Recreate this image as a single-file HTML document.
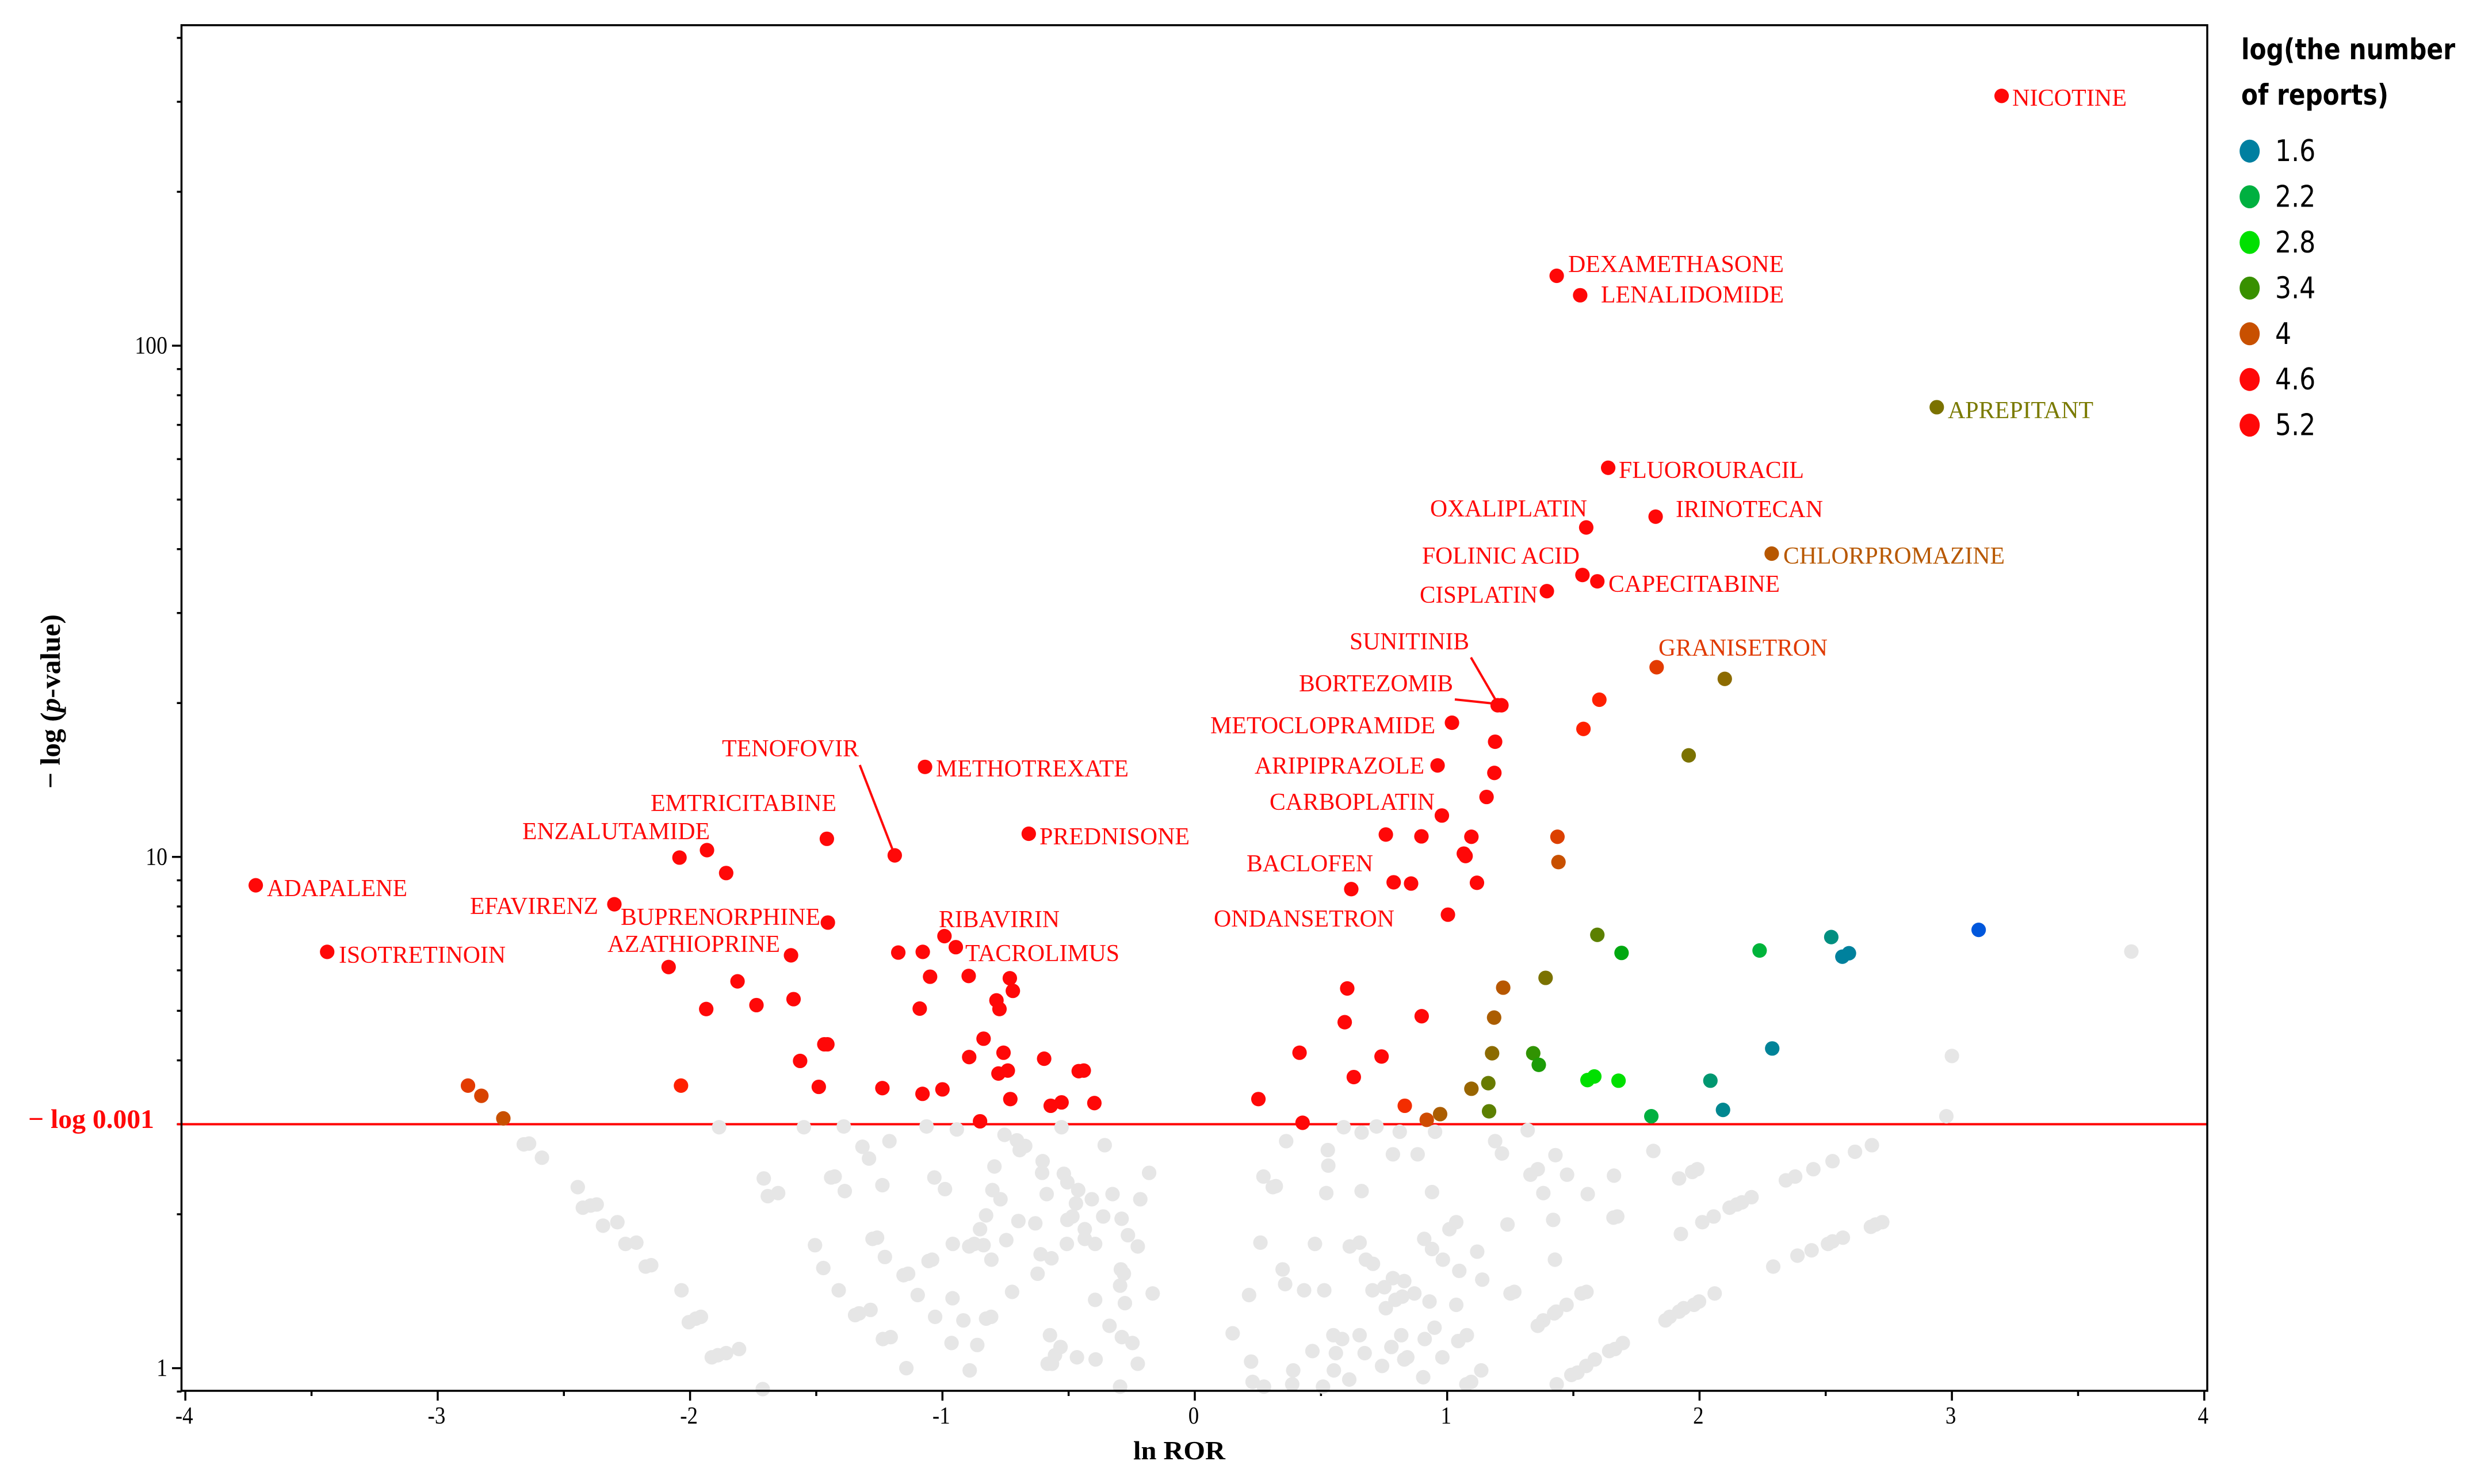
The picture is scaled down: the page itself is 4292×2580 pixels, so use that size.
<!DOCTYPE html>
<html lang="en">
<head>
<meta charset="utf-8">
<title>Volcano plot of ln ROR against -log p-value</title>
<style>
html,body{margin:0;padding:0;background:#fff;}
svg{display:block;}
.serif{font-family:"Liberation Serif","Noto Serif CJK SC",serif;}
.sans{font-family:"DejaVu Sans","Liberation Sans",sans-serif;}
.drug{font-family:"Liberation Serif",serif;font-size:42px;fill:#ff0808;}
</style>
</head>
<body>
<svg id="chart" xmlns="http://www.w3.org/2000/svg" width="4292" height="2580" viewBox="0 0 4292 2580">
  <rect x="0" y="0" width="4292" height="2580" fill="#ffffff"/>
  <g id="ticks"></g>
  <g id="threshold"></g>
  <g id="greyDots"></g>
  <g id="sigDots"></g>
  <rect x="315.5" y="43.8" width="3521.5" height="2374.2" fill="none" stroke="#000" stroke-width="3.5"/>

  <g stroke="#ff0808" stroke-width="4" fill="none">
    <line x1="1494.6" y1="1330" x2="1551" y2="1475.5"/>
    <line x1="2557" y1="1143" x2="2600" y2="1217"/>
    <line x1="2529" y1="1216" x2="2595" y2="1223"/>
  </g>

  <g>
    <text class="drug" x="3498" y="184" textLength="199" lengthAdjust="spacingAndGlyphs">NICOTINE</text>
    <text class="drug" x="2726" y="473" textLength="375" lengthAdjust="spacingAndGlyphs">DEXAMETHASONE</text>
    <text class="drug" x="2783" y="526" textLength="318" lengthAdjust="spacingAndGlyphs">LENALIDOMIDE</text>
    <text class="drug" x="3386" y="727" textLength="253" lengthAdjust="spacingAndGlyphs" style="fill:#7a7a00">APREPITANT</text>
    <text class="drug" x="2814" y="831" textLength="322" lengthAdjust="spacingAndGlyphs">FLUOROURACIL</text>
    <text class="drug" x="2486" y="898" textLength="273" lengthAdjust="spacingAndGlyphs">OXALIPLATIN</text>
    <text class="drug" x="2913" y="899" textLength="256" lengthAdjust="spacingAndGlyphs">IRINOTECAN</text>
    <text class="drug" x="2472" y="980" textLength="274" lengthAdjust="spacingAndGlyphs">FOLINIC ACID</text>
    <text class="drug" x="3100" y="980" textLength="385" lengthAdjust="spacingAndGlyphs" style="fill:#b85800">CHLORPROMAZINE</text>
    <text class="drug" x="2796" y="1029" textLength="298" lengthAdjust="spacingAndGlyphs">CAPECITABINE</text>
    <text class="drug" x="2468" y="1048" textLength="205" lengthAdjust="spacingAndGlyphs">CISPLATIN</text>
    <text class="drug" x="2883" y="1140" textLength="294" lengthAdjust="spacingAndGlyphs" style="fill:#e03a00">GRANISETRON</text>
    <text class="drug" x="2346" y="1129" textLength="208" lengthAdjust="spacingAndGlyphs">SUNITINIB</text>
    <text class="drug" x="2258" y="1202" textLength="268" lengthAdjust="spacingAndGlyphs">BORTEZOMIB</text>
    <text class="drug" x="2104" y="1275" textLength="391" lengthAdjust="spacingAndGlyphs">METOCLOPRAMIDE</text>
    <text class="drug" x="2181" y="1345" textLength="295" lengthAdjust="spacingAndGlyphs">ARIPIPRAZOLE</text>
    <text class="drug" x="2207" y="1408" textLength="287" lengthAdjust="spacingAndGlyphs">CARBOPLATIN</text>
    <text class="drug" x="2167" y="1515" textLength="220" lengthAdjust="spacingAndGlyphs">BACLOFEN</text>
    <text class="drug" x="2110" y="1611" textLength="314" lengthAdjust="spacingAndGlyphs">ONDANSETRON</text>
    <text class="drug" x="1255" y="1315" textLength="238" lengthAdjust="spacingAndGlyphs">TENOFOVIR</text>
    <text class="drug" x="1627" y="1350" textLength="335" lengthAdjust="spacingAndGlyphs">METHOTREXATE</text>
    <text class="drug" x="1131" y="1410" textLength="323" lengthAdjust="spacingAndGlyphs">EMTRICITABINE</text>
    <text class="drug" x="908" y="1459" textLength="326" lengthAdjust="spacingAndGlyphs">ENZALUTAMIDE</text>
    <text class="drug" x="1807" y="1468" textLength="261" lengthAdjust="spacingAndGlyphs">PREDNISONE</text>
    <text class="drug" x="464" y="1558" textLength="244" lengthAdjust="spacingAndGlyphs">ADAPALENE</text>
    <text class="drug" x="817" y="1589" textLength="223" lengthAdjust="spacingAndGlyphs">EFAVIRENZ</text>
    <text class="drug" x="1079" y="1608" textLength="347" lengthAdjust="spacingAndGlyphs">BUPRENORPHINE</text>
    <text class="drug" x="1632" y="1612" textLength="210" lengthAdjust="spacingAndGlyphs">RIBAVIRIN</text>
    <text class="drug" x="1056" y="1655" textLength="300" lengthAdjust="spacingAndGlyphs">AZATHIOPRINE</text>
    <text class="drug" x="1678" y="1671" textLength="268" lengthAdjust="spacingAndGlyphs">TACROLIMUS</text>
    <text class="drug" x="589" y="1674" textLength="290" lengthAdjust="spacingAndGlyphs">ISOTRETINOIN</text>
  </g>

  <text class="serif" x="49" y="1961" font-size="47" font-weight="bold" fill="#ff0808" textLength="219" lengthAdjust="spacingAndGlyphs">− log 0.001</text>
  <text class="serif" x="1970" y="2537" font-size="46" font-weight="bold" fill="#000" textLength="160" lengthAdjust="spacingAndGlyphs">ln ROR</text>
  <text class="serif" transform="translate(104,1371) rotate(-90)" font-size="49" font-weight="bold" fill="#000" textLength="303" lengthAdjust="spacingAndGlyphs">− log (<tspan font-style="italic">p</tspan>-value)</text>

  <g id="xLabels"></g>
  <g id="yLabels"></g>

  <g id="legend">
    <text class="sans" x="3896" y="103" font-size="50" font-weight="bold" fill="#000" textLength="372" lengthAdjust="spacingAndGlyphs">log(the number</text>
    <text class="sans" x="3896" y="182" font-size="50" font-weight="bold" fill="#000" textLength="256" lengthAdjust="spacingAndGlyphs">of reports)</text>
  </g>
</svg>
<script>
const xMajorTicks = [-4,-3,-2,-1,0,1,2,3,4];
const xMinorTicks = [-3.5,-2.5,-1.5,-0.5,0.5,1.5,2.5,3.5];
const yMajorTicks = [1,10,100];
const yMinorTicks = [0.9,2,3,4,5,6,7,8,9,20,30,40,50,60,70,80,90,200,300,400];
const significanceThreshold = 3;
const legendValues = [1.6,2.2,2.8,3.4,4,4.6,5.2];

/* [ln ROR, -log p] */
const nonSignificantPoints = [
[-1.885,2.96],[-2.659,2.74],[-2.638,2.75],[-2.587,2.58],[-2.445,2.26],[-2.425,2.06],[-2.394,2.08],[-2.37,2.09],
[-2.345,1.90],[-2.288,1.93],[-2.256,1.75],[-2.213,1.76],[-2.176,1.58],[-2.154,1.59],[-2.034,1.42],[-2.005,1.23],
[-1.977,1.25],[-1.957,1.26],[-1.914,1.05],[-1.89,1.06],[-1.857,1.07],[-1.806,1.09],[-1.712,0.91],[-1.708,2.35],
[-1.692,2.17],[-1.651,2.20],[-1.549,2.96],
[-1.391,2.97],[-1.317,2.71],[-1.291,2.57],[-1.21,2.78],[-1.441,2.36],[-1.427,2.37],[-1.387,2.22],[-1.238,2.28],
[-1.063,2.97],[-0.943,2.93],[-1.032,2.36],[-0.99,2.24],[-0.754,2.86],[-0.705,2.79],[-0.694,2.67],[-0.672,2.72],
[-0.794,2.48],[-0.603,2.54],[-0.605,2.41],[-0.528,2.96],[-0.357,2.73],[-0.519,2.40],[-0.505,2.31],[-0.462,2.23],
[-0.181,2.41],[-0.802,2.23],[-0.77,2.14],[-0.587,2.19],[-0.471,2.10],[-0.408,2.14],[-0.326,2.19],[-0.216,2.14],
[-0.827,1.99],[-0.851,1.87],[-0.699,1.94],[-0.632,1.92],[-0.505,1.95],[-0.485,1.98],[-0.363,1.98],[-0.29,1.96],
[-0.436,1.87],[-0.265,1.82],[-0.436,1.79],[-0.507,1.75],[-0.395,1.75],[-0.226,1.73],[-0.747,1.78],[-0.837,1.74],
[-0.894,1.73],[-0.874,1.75],[-0.959,1.75],[-1.277,1.79],[-1.259,1.80],[-1.505,1.74],[-1.228,1.65],[-1.472,1.57],
[-1.041,1.63],[-1.055,1.62],[-0.806,1.63],[-0.611,1.67],[-0.568,1.64],[-0.623,1.53],[-1.154,1.52],[-1.136,1.53],
[-1.411,1.42],[-1.098,1.39],[-0.96,1.37],[-0.724,1.41],[-0.293,1.56],[-0.281,1.53],[-0.296,1.45],[-0.167,1.40],
[-0.395,1.36],[-0.277,1.34],[-1.285,1.30],[-1.346,1.27],[-1.33,1.28],[-1.029,1.26],[-0.917,1.24],[-0.827,1.25],
[-0.807,1.26],[-0.338,1.21],[-1.236,1.14],[-1.205,1.15],[-0.964,1.12],[-0.862,1.11],[-0.574,1.16],[-0.532,1.10],
[-0.554,1.06],[-0.583,1.02],[-0.566,1.02],[-0.467,1.05],[-0.393,1.04],[-0.289,1.15],[-0.247,1.12],[-0.226,1.02],
[-1.143,1.00],[-0.892,0.99],[-0.296,0.92],
[0.362,2.78],[0.527,2.67],[0.529,2.49],[0.59,2.96],[0.661,2.89],[0.72,2.97],[0.812,2.90],[0.952,2.90],
[0.785,2.62],[0.883,2.62],[1.19,2.78],[1.217,2.63],[1.319,2.92],[1.429,2.61],[1.33,2.39],[1.359,2.45],
[1.475,2.39],[1.381,2.20],[1.557,2.19],[0.272,2.37],[0.309,2.26],[0.321,2.27],[0.521,2.20],[0.661,2.22],
[0.94,2.21],[1.42,1.95],[1.036,1.93],[1.009,1.87],[1.239,1.91],[0.26,1.76],[0.476,1.75],[0.614,1.73],
[0.653,1.76],[0.909,1.79],[0.94,1.71],[0.983,1.63],[0.678,1.63],[0.706,1.60],[1.119,1.69],[1.427,1.63],
[0.348,1.56],[0.358,1.46],[1.048,1.55],[0.785,1.50],[0.83,1.48],[0.751,1.44],[0.704,1.42],[0.433,1.42],
[0.513,1.42],[0.215,1.39],[1.139,1.49],[0.87,1.40],[0.822,1.38],[0.795,1.36],[0.757,1.31],[0.93,1.35],
[1.036,1.33],[1.251,1.40],[1.266,1.41],[1.532,1.40],[1.552,1.41],[1.473,1.33],[1.424,1.28],[1.432,1.29],
[1.381,1.24],[1.359,1.21],[0.95,1.20],[0.15,1.17],[0.549,1.16],[0.584,1.14],[0.653,1.16],[0.818,1.16],
[0.911,1.14],[1.078,1.16],[1.044,1.13],[0.466,1.08],[0.559,1.07],[0.673,1.07],[0.779,1.10],[0.83,1.04],
[0.842,1.05],[0.981,1.05],[0.223,1.03],[0.742,1.01],[0.551,0.99],[0.39,0.99],[0.905,0.96],[1.135,0.99],
[0.612,0.95],[1.095,0.94],[1.076,0.93],[0.229,0.94],[0.274,0.92],[0.386,0.93],[0.508,0.92],[1.434,0.93],
[1.492,0.97],[1.516,0.98],[1.551,1.01],[1.585,1.04],[1.642,1.08],
[1.661,2.38],[1.674,1.98],[1.659,1.97],[1.817,2.66],[1.919,2.35],[1.971,2.42],[1.991,2.45],[1.926,1.83],
[2.011,1.93],[2.056,1.98],[2.119,2.06],[2.148,2.09],[2.168,2.11],[2.206,2.16],[2.342,2.33],[2.379,2.37],
[2.451,2.45],[2.527,2.54],[2.616,2.65],[2.683,2.73],[2.292,1.58],[2.388,1.66],[2.444,1.70],[2.509,1.75],
[2.527,1.77],[2.568,1.80],[2.679,1.89],[2.698,1.91],[2.724,1.93],[1.865,1.24],[1.882,1.26],[1.919,1.29],
[1.937,1.31],[1.978,1.33],[1.998,1.35],[2.06,1.40],[1.696,1.12],[1.665,1.09],
[2.978,3.11],[3.0,4.08],[3.711,6.53]
];

/* [ln ROR, -log p, log(number of reports)] */
const significantPoints = [
[3.197,308,5.1],[1.434,137,5.1],[1.527,125.5,5],[2.94,75.8,3.68],[1.638,57.7,4.8],[1.551,44.1,4.8],[1.826,46.3,4.8],
[2.286,39.2,3.93],[1.536,35.6,4.8],[1.595,34.6,4.8],[1.395,33.1,4.8],[1.83,23.5,4.2],[2.10,22.3,3.75],[1.603,20.3,4.45],
[1.54,17.8,4.45],[1.957,15.8,3.68],[1.20,19.8,4.8],[1.215,19.8,4.8],[1.019,18.3,4.8],[1.19,16.8,4.8],[0.962,15.1,4.8],
[1.187,14.6,4.8],[1.156,13.1,4.8],[0.979,12.05,4.8],
[0.757,11.06,4.8],[0.898,10.97,4.8],[1.096,10.95,4.8],[1.437,10.95,4.15],[1.066,10.15,4.8],[1.073,10.04,4.8],
[1.441,9.77,4],[0.788,8.92,4.8],[0.857,8.87,4.8],[1.118,8.9,4.8],[0.62,8.65,4.8],[1.003,7.71,4.8],[0.604,5.53,4.8],
[1.222,5.55,3.93],[1.39,5.8,3.68],[1.595,7.04,3.55],
[0.899,4.88,4.8],[0.594,4.75,4.8],[0.415,4.14,4.8],[0.74,4.07,4.8],[0.63,3.71,4.8],[0.252,3.36,4.8],[0.427,3.02,4.8],
[0.832,3.26,4.33],[0.919,3.06,4.05],[0.972,3.14,3.88],[1.096,3.52,3.8],[1.163,3.61,3.6],[1.166,3.18,3.55],[1.178,4.13,3.75],
[1.186,4.85,3.88],[1.341,4.13,3.35],[1.363,3.92,3.2],[1.556,3.66,2.8],[1.583,3.72,2.8],
[-1.189,10.07,4.8],[-1.069,15.0,4.8],[-0.658,11.1,4.8],[-1.458,10.85,4.8],[-1.454,7.44,4.8],[-0.992,7.0,4.8],[-0.947,6.66,4.8],
[-1.175,6.5,4.8],[-1.078,6.52,4.8],[-1.049,5.83,4.8],[-0.896,5.85,4.8],[-0.733,5.79,4.8],[-0.721,5.47,4.8],[-0.786,5.24,4.8],
[-1.09,5.05,4.8],[-0.774,5.04,4.8],[-0.837,4.41,4.8],[-1.468,4.3,4.8],[-1.456,4.3,4.8],[-0.894,4.06,4.8],[-0.758,4.14,4.8],
[-0.597,4.03,4.8],[-0.46,3.81,4.8],[-0.44,3.82,4.8],[-0.778,3.77,4.8],[-0.741,3.82,4.8],[-1.49,3.55,4.8],[-1.238,3.53,4.8],
[-1.079,3.44,4.8],[-1.0,3.51,4.8],[-0.731,3.36,4.8],[-0.571,3.26,4.8],[-0.528,3.31,4.8],[-0.398,3.30,4.8],[-0.851,3.04,4.8],
[-1.564,3.99,4.8],
[-3.721,8.8,4.8],[-3.438,6.52,4.8],[-2.30,8.08,4.8],[-2.042,9.97,4.8],[-1.933,10.31,4.8],[-1.857,9.3,4.8],[-1.60,6.42,4.8],
[-2.085,6.09,4.8],[-1.812,5.71,4.8],[-1.59,5.27,4.8],[-1.737,5.13,4.8],[-1.936,5.04,4.8],[-2.036,3.57,4.45],[-2.88,3.57,4.2],
[-2.827,3.41,4.12],[-2.74,3.08,4],
[1.691,6.49,3.0],[2.238,6.56,2.25],[2.522,6.97,1.8],[2.566,6.38,1.62],[2.592,6.48,1.62],[3.106,7.2,1.22],[2.288,4.22,1.65],
[1.679,3.65,2.8],[2.043,3.65,1.9],[2.093,3.2,1.7],[1.809,3.11,2.2]
];

const colorStopValues = [1,1.6,2.2,2.8,3.0,3.4,4,4.3,4.45,4.6,5.2];
const colorStopColors = [[0,64,255],[0,127,160],[0,176,64],[0,224,0],[0,168,16],[56,144,0],[200,80,0],[240,48,0],[255,32,0],[255,8,8],[255,8,8]];

const NS = 'http://www.w3.org/2000/svg';
function xScale(v){ return 2077 + 438.7 * v; }
function yScale(v){ return 2378.6 - 888.8 * Math.log10(v); }
function reportColor(v){
  if (v <= colorStopValues[0]) return 'rgb(' + colorStopColors[0].join(',') + ')';
  for (let i = 1; i < colorStopValues.length; i++) {
    if (v <= colorStopValues[i]) {
      const t = (v - colorStopValues[i-1]) / (colorStopValues[i] - colorStopValues[i-1]);
      const a = colorStopColors[i-1], b = colorStopColors[i];
      return 'rgb(' + a.map(function(c, k){ return Math.round(c + (b[k] - c) * t); }).join(',') + ')';
    }
  }
  return 'rgb(' + colorStopColors[colorStopColors.length-1].join(',') + ')';
}
function make(tag, parent, props){
  const el = document.createElementNS(NS, tag);
  for (const k in props) el.setAttribute(k, props[k]);
  parent.appendChild(el);
  return el;
}

const ticksGroup = document.getElementById('ticks');
xMajorTicks.forEach(function(v){
  const el = make('line', ticksGroup, {x1:xScale(v), x2:xScale(v), y1:2418, y2:2435, stroke:'#000', 'stroke-width':3.5});
  
  
});
xMinorTicks.forEach(function(v){
  const el = make('line', ticksGroup, {x1:xScale(v), x2:xScale(v), y1:2418, y2:2427, stroke:'#000', 'stroke-width':3.5});
  
  
});
yMajorTicks.forEach(function(v){
  const el = make('line', ticksGroup, {x1:299, x2:315.5, y1:yScale(v), y2:yScale(v), stroke:'#000', 'stroke-width':3.5});
  
  
});
yMinorTicks.forEach(function(v){
  const el = make('line', ticksGroup, {x1:307.5, x2:315.5, y1:yScale(v), y2:yScale(v), stroke:'#000', 'stroke-width':3.5});
  
  
});

const xLabelGroup = document.getElementById('xLabels');
xMajorTicks.forEach(function(v){
  const el = make('text', xLabelGroup, {transform:'translate(' + (xScale(v) - 2) + ',2475) scale(.88,1)', 'text-anchor':'middle', 'font-size':42, fill:'#000', 'class':'serif'});
  
  
  el.textContent = String(v);
});
const yLabelGroup = document.getElementById('yLabels');
yMajorTicks.forEach(function(v){
  const el = make('text', yLabelGroup, {transform:'translate(291,' + (yScale(v) + 13.5) + ') scale(.88,1)', 'text-anchor':'end', 'font-size':43, fill:'#000', 'class':'serif'});
  
  
  el.textContent = String(v);
});

const thresholdGroup = document.getElementById('threshold');
const thresholdLine = make('line', thresholdGroup, {x1:308, x2:3837, y1:yScale(significanceThreshold), y2:yScale(significanceThreshold), stroke:'#ff0000', 'stroke-width':4});



const greyGroup = document.getElementById('greyDots');
nonSignificantPoints.forEach(function(p){
  const el = make('circle', greyGroup, {cx:xScale(p[0]), cy:yScale(p[1]), r:12.6, fill:'#e6e6e6'});
  
  
});
const sigGroup = document.getElementById('sigDots');
significantPoints.forEach(function(p){
  const el = make('circle', sigGroup, {cx:xScale(p[0]), cy:yScale(p[1]), r:12.6, fill:reportColor(p[2])});
  
  
});

const legendGroup = document.getElementById('legend');
legendValues.forEach(function(v, i){
  const cy = 262.7 + 79.4 * i;
  const dot = make('ellipse', legendGroup, {cx:3910.7, cy:cy, rx:17.5, ry:20, fill:reportColor(v)});
  
  
  const label = make('text', legendGroup, {transform:'translate(3955,' + (cy + 17.5) + ') scale(.85,1)', 'font-size':52, fill:'#000', 'class':'sans'});
  
  
  label.textContent = String(v);
});
</script>
</body>
</html>
